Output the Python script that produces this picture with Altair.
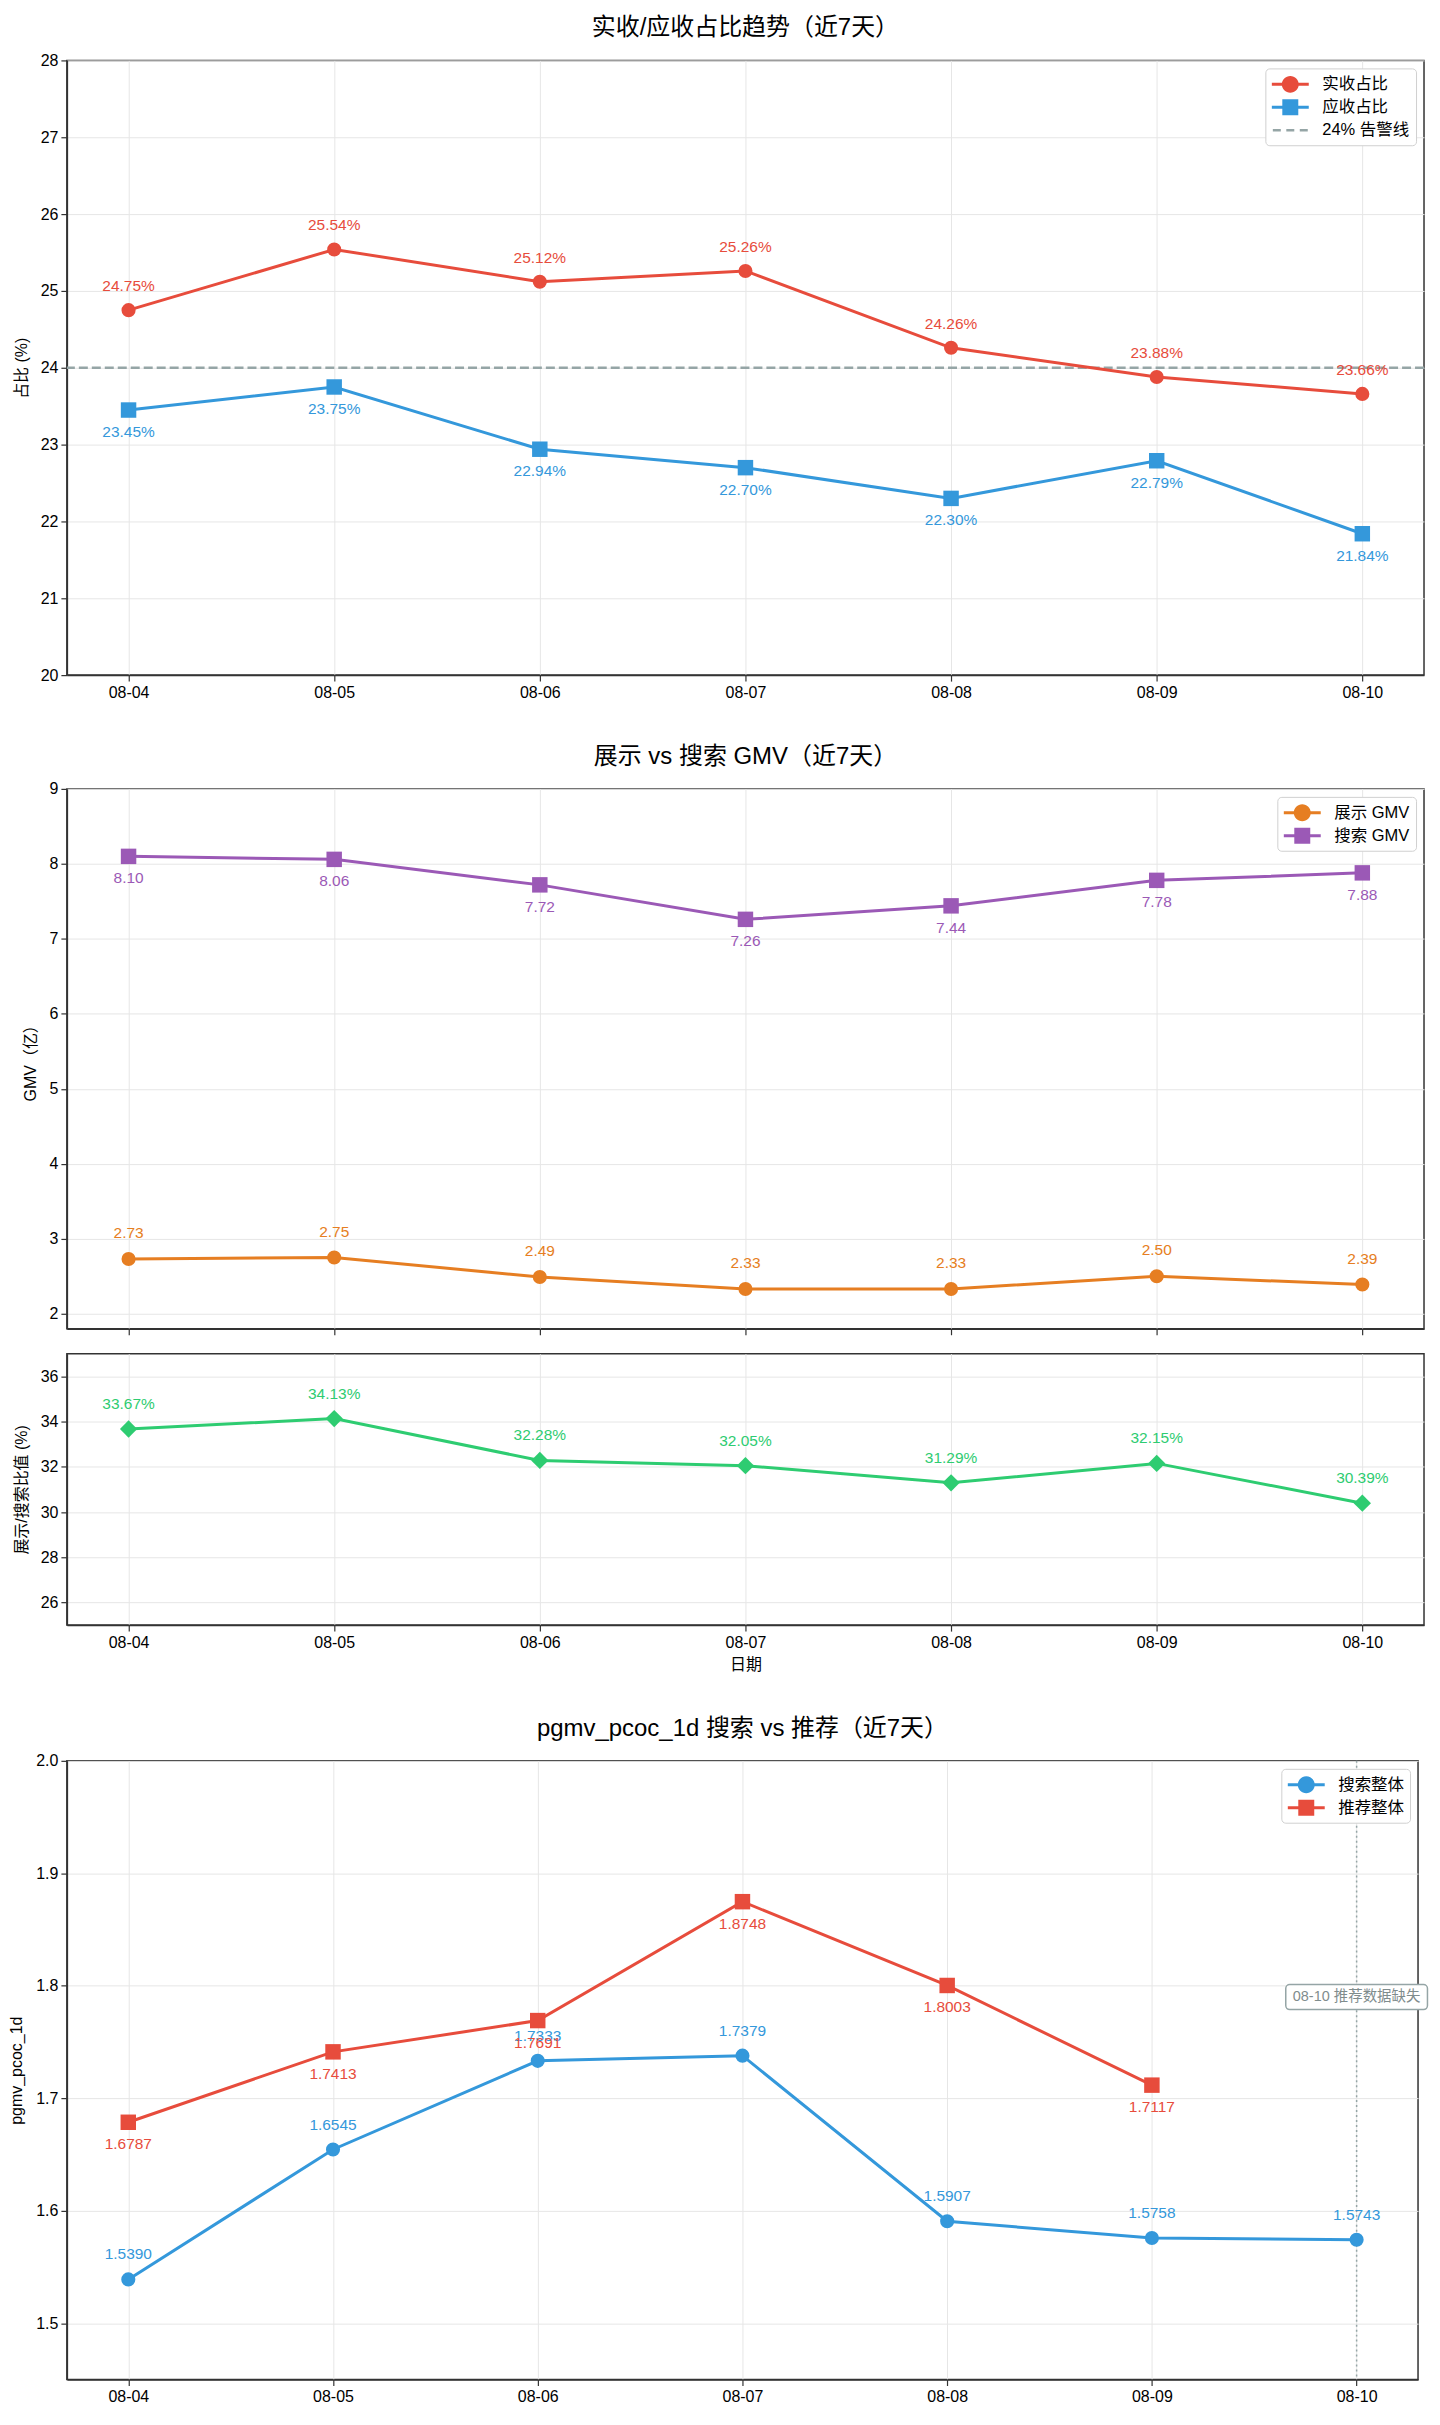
import altair as alt
import pandas as pd

# ---------------- data ----------------
dates = ["08-04", "08-05", "08-06", "08-07", "08-08", "08-09", "08-10"]

actual_ratio = [24.75, 25.54, 25.12, 25.26, 24.26, 23.88, 23.66]      # 实收占比
receivable_ratio = [23.45, 23.75, 22.94, 22.70, 22.30, 22.79, 21.84]  # 应收占比
alert_level = [24.0]

display_gmv = [2.73, 2.75, 2.49, 2.33, 2.33, 2.50, 2.39]   # 展示 GMV
search_gmv = [8.10, 8.06, 7.72, 7.26, 7.44, 7.78, 7.88]    # 搜索 GMV

display_search_ratio = [33.67, 34.13, 32.28, 32.05, 31.29, 32.15, 30.39]

search_pcoc = [1.5390, 1.6545, 1.7333, 1.7379, 1.5907, 1.5758, 1.5743]
rec_pcoc = [1.6787, 1.7413, 1.7691, 1.8748, 1.8003, 1.7117, None]
missing_note = ["08-10 推荐数据缺失"]
missing_date = ["08-10"]
missing_note_y = [1.79]

y1_ticks = [20, 21, 22, 23, 24, 25, 26, 27, 28]
y2_ticks = [2, 3, 4, 5, 6, 7, 8, 9]
y3_ticks = [26, 28, 30, 32, 34, 36]
y4_ticks = [1.5, 1.6, 1.7, 1.8, 1.9, 2.0]

# ---------------- styling ----------------
FONT = "Liberation Sans, Noto Sans CJK SC, sans-serif"
RED, BLUE, ORANGE, PURPLE, GREEN, GRAY = (
    "#E74C3C", "#3498DB", "#E67E22", "#9B59B6", "#2ECC71", "#95A5A6")

W = 1360
W4 = 1354

# legend symbol paths (unit = 10px with symbolSize 400)
LEG_CIRCLE = ("M-1.85,-0.15 H-0.8 V0.15 H-1.85 Z M0.8,-0.15 H1.85 V0.15 H0.8 Z "
              "M0.85,0 A0.85,0.85 0 1,1 -0.85,0 A0.85,0.85 0 1,1 0.85,0 Z")
LEG_SQUARE = ("M-1.85,-0.15 H-0.8 V0.15 H-1.85 Z M0.8,-0.15 H1.85 V0.15 H0.8 Z "
              "M-0.8,-0.8 H0.8 V0.8 H-0.8 Z")
LEG_DASH = ("M-1.75,-0.12 H-0.95 V0.12 H-1.75 Z M-0.4,-0.12 H0.4 V0.12 H-0.4 Z "
            "M0.95,-0.12 H1.75 V0.12 H0.95 Z")

# rounded box (unit = 71px with size 142*142)
BOX_PATH = ("M-0.944,-0.176 H0.944 A0.056,0.056 0 0 1 1,-0.12 V0.12 "
            "A0.056,0.056 0 0 1 0.944,0.176 H-0.944 A0.056,0.056 0 0 1 -1,0.12 "
            "V-0.12 A0.056,0.056 0 0 1 -0.944,-0.176 Z")


def xenc(labels=True, title=None):
    return alt.X("date:O", sort=dates,
                 scale=alt.Scale(type="point", padding=0.3),
                 axis=alt.Axis(title=title, labelAngle=0, grid=True,
                               labels=labels, ticks=True, titlePadding=6))


def yenc(domain, ticks, title, fmt=None):
    ax = dict(title=title, values=ticks, grid=True)
    if fmt:
        ax["format"] = fmt
    return alt.Y("v:Q", scale=alt.Scale(domain=domain, nice=False, zero=False),
                 axis=alt.Axis(**ax))


def series_layers(values, color, shape, size, dy, fmt, suffix, ye, xe):
    rows = [(d, v) for d, v in zip(dates, values) if v is not None]
    df = pd.DataFrame(rows, columns=["date", "v"])
    base = alt.Chart(df).encode(x=xe, y=ye)
    line = base.mark_line(color=color, strokeWidth=3)
    pts = base.mark_point(shape=shape, size=size, filled=True, color=color,
                          opacity=1, strokeWidth=0)
    txt = base.transform_calculate(
        lab=f"format(datum.v, '{fmt}') + '{suffix}'"
    ).mark_text(color=color, dy=dy, fontSize=15.5, font=FONT,
                baseline="middle", align="center").encode(text="lab:N")
    return [line, pts, txt]


def legend_layer(field, names, colors, paths):
    df = pd.DataFrame({field: names})
    leg = alt.Legend(title=None, orient="top-right", offset=8,
                     fillColor="white", strokeColor="#d0d0d0", cornerRadius=4,
                     padding=6, labelFont=FONT, labelFontSize=16.5, labelColor="#000",
                     symbolSize=400, symbolStrokeWidth=0, symbolOpacity=1,
                     symbolOffset=9, labelOffset=22, rowPadding=4)
    return alt.Chart(df).transform_filter("false").mark_point(
        filled=True, size=400).encode(
        color=alt.Color(f"{field}:N", sort=names,
                        scale=alt.Scale(domain=names, range=colors), legend=leg),
        shape=alt.Shape(f"{field}:N", sort=names,
                        scale=alt.Scale(domain=names, range=paths), legend=leg),
    )


def title(text):
    return alt.TitleParams(text=text, font=FONT, fontSize=24, fontWeight="normal",
                           color="#000", offset=12)


# ---------------- panel 1 ----------------
y1 = yenc([20, 28], y1_ticks, "占比 (%)")
x1 = xenc()
alert_df = pd.DataFrame({"v": alert_level})
alert = alt.Chart(alert_df).mark_rule(color=GRAY, strokeWidth=2.5,
                                      strokeDash=[9, 4]).encode(y=y1)
p1 = alt.layer(
    alert,
    *series_layers(actual_ratio, RED, "circle", 200, -24, ".2f", "%", y1, x1),
    *series_layers(receivable_ratio, BLUE, "square", 240, 22, ".2f", "%", y1, x1),
    legend_layer("k1", ["实收占比", "应收占比", "24% 告警线"], [RED, BLUE, GRAY],
                 [LEG_CIRCLE, LEG_SQUARE, LEG_DASH]),
).properties(width=W, height=616, title=title("实收/应收占比趋势（近7天）"))

# ---------------- panel 2 ----------------
y2 = yenc([1.8, 9], y2_ticks, "GMV（亿）")
x2 = xenc(labels=False)
p2 = alt.layer(
    *series_layers(display_gmv, ORANGE, "circle", 200, -26, ".2f", "", y2, x2),
    *series_layers(search_gmv, PURPLE, "square", 240, 22, ".2f", "", y2, x2),
    legend_layer("k2", ["展示 GMV", "搜索 GMV"], [ORANGE, PURPLE],
                 [LEG_CIRCLE, LEG_SQUARE]),
).properties(width=W, height=541, title=title("展示 vs 搜索 GMV（近7天）"))

# ---------------- panel 3 ----------------
y3 = yenc([25, 37], y3_ticks, "展示/搜索比值 (%)")
x3 = xenc(title="日期")
p3 = alt.layer(
    *series_layers(display_search_ratio, GREEN, "diamond", 300, -25, ".2f", "%", y3, x3),
).properties(width=W, height=272)

# ---------------- panel 4 ----------------
y4 = yenc([1.45, 2.0], y4_ticks, "pgmv_pcoc_1d", fmt=".1f")
x4 = xenc()
miss_df = pd.DataFrame({"date": missing_date, "v": missing_note_y, "note": missing_note})
miss_rule = alt.Chart(miss_df).mark_rule(color=GRAY, strokeWidth=1.5,
                                         strokeDash=[2, 3]).encode(x=x4)
miss_box = alt.Chart(miss_df).mark_point(
    shape=BOX_PATH, size=142 * 142, filled=True, fill="white", fillOpacity=1,
    stroke=GRAY, strokeWidth=1.5, strokeOpacity=1, opacity=1).encode(x=x4, y=y4)
miss_txt = alt.Chart(miss_df).mark_text(
    font=FONT, fontSize=14.5, color="#7F8C8D", align="center", baseline="middle"
).encode(x=x4, y=y4, text="note:N")
p4 = alt.layer(
    miss_rule,
    *series_layers(search_pcoc, BLUE, "circle", 200, -25, ".4f", "", y4, x4),
    *series_layers(rec_pcoc, RED, "square", 240, 22, ".4f", "", y4, x4),
    miss_box, miss_txt,
    legend_layer("k4", ["搜索整体", "推荐整体"], [BLUE, RED],
                 [LEG_CIRCLE, LEG_SQUARE]),
).properties(width=W4, height=620, title=title("pgmv_pcoc_1d 搜索 vs 推荐（近7天）"))

mid = alt.vconcat(p2, p3, spacing=16).resolve_scale(
    color="independent", shape="independent")
chart = alt.vconcat(p1, mid, p4, spacing=43).resolve_scale(
    color="independent", shape="independent"
).configure(font=FONT, padding={"top": 5, "left": 0, "right": 0, "bottom": 0}).configure_view(
    stroke="#333", strokeWidth=1.5
).configure_axis(
    labelFont=FONT, labelFontSize=16, labelColor="#000",
    titleFont=FONT, titleFontSize=16, titleFontWeight="normal", titleColor="#000",
    gridColor="#e6e6e6", gridWidth=1, domainColor="#333", domainWidth=1.5,
    tickColor="#333", tickSize=6, tickWidth=1.2, labelPadding=3, titlePadding=11,
)

chart.save("out.html", embed_options={"renderer": "svg", "actions": False})
